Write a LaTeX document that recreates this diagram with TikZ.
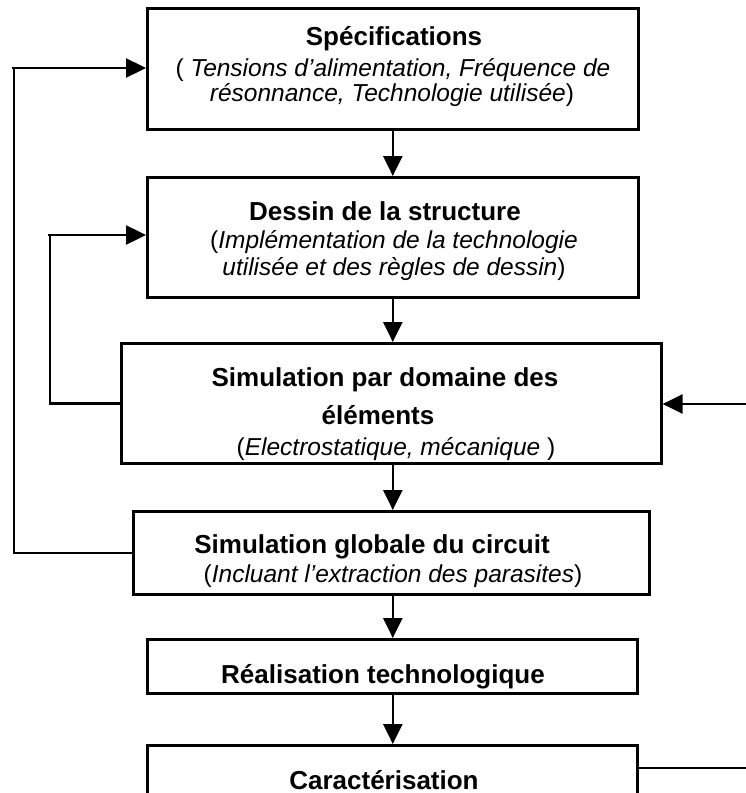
\documentclass[tikz,border=0pt]{standalone}
\usepackage{fontspec}
\setmainfont{Liberation Sans}
\usetikzlibrary{arrows.meta}
\begin{document}
\begin{tikzpicture}[x=1pt,y=-1pt,
  box/.style={draw,line width=2.6pt,rectangle,inner sep=0pt,anchor=north west},
  ttl/.style={anchor=base,inner sep=0pt,font=\fontsize{26}{30}\selectfont\bfseries},
  sub/.style={anchor=base,inner sep=0pt,font=\fontsize{24.5}{28}\selectfont},
  conn/.style={line width=2.4pt},
  arr/.style={conn,-{Triangle[length=20pt,width=19pt]}}]
\useasboundingbox (0,0) rectangle (746,793);
\clip (0,0) rectangle (746,793);
\fill[white] (0,0) rectangle (746,793);
% boxes
\node[box,minimum width=491pt,minimum height=121pt] (b1) at (146,7) {};
\node[box,minimum width=491pt,minimum height=120pt] (b2) at (146,176) {};
\node[box,minimum width=540pt,minimum height=120pt] (b3) at (120,342) {};
\node[box,minimum width=516pt,minimum height=83pt] (b4) at (132,510) {};
\node[box,minimum width=490pt,minimum height=54pt] (b5) at (146,638) {};
\node[box,minimum width=490pt,minimum height=100pt] (b6) at (146,744) {};
% texts
\node[ttl] (t1) at (394,45) {Spécifications};
\node[sub] (s1a) at (393,76) {( \textit{Tensions d’alimentation, Fréquence de}};
\node[sub] (s1b) at (392,101) {\textit{résonnance, Technologie utilisée})};
\node[ttl] (t2) at (385,220) {Dessin de la structure};
\node[sub] (s2a) at (394,248) {(\textit{Implémentation de la technologie}};
\node[sub] (s2b) at (394,275) {\textit{utilisée et des règles de dessin})};
\begin{scope}
\clip (b3.north west) rectangle ([yshift=4pt]b3.south east);
\node[ttl] (t3a) at (385,386) {Simulation par domaine des};
\node[ttl] (t3b) at (378,424) {éléments};
\node[sub] (s3) at (396,455) {(\textit{Electrostatique, mécanique} )};
\end{scope}
\node[ttl] (t4) at (372,553) {Simulation globale du circuit};
\node[sub] (s4) at (393,582) {(\textit{Incluant l’extraction des parasites})};
\begin{scope}
\clip (b5.north west) rectangle ([yshift=6pt]b5.south east);
\node[ttl] (t5) at (383,683) {Réalisation technologique};
\end{scope}
\node[ttl] (t6) at (384,789) {Caractérisation};
% vertical arrows
\draw[arr] (b1.south) -- (b1.south |- b2.north);
\draw[arr] (b2.south) -- (b2.south |- b3.north);
\draw[arr] (b3.south -| b2.south) -- (b2.south |- b4.north);
\draw[arr] (b4.south -| b2.south) -- (b2.south |- b5.north);
\draw[arr] (b5.south -| b2.south) -- (b2.south |- b6.north);
% feedback loops
\coordinate (c1) at (14,68);
\coordinate (c2) at (50,235);
\coordinate (c3) at (746,404);
\coordinate (c4) at (746,768);
\draw[conn] (b4.west) -| (c1);
\draw[arr] ([xshift=-2.5pt]c1) -- (c1 -| b1.west);
\draw[conn] (b3.west) -| (c2);
\draw[arr] ([xshift=-2.5pt]c2) -- (c2 -| b2.west);
\draw[arr] (c3) -- (c3 -| b3.east);
\draw[conn] (c4 -| b6.east) -- (c4);
\end{tikzpicture}
\end{document}
